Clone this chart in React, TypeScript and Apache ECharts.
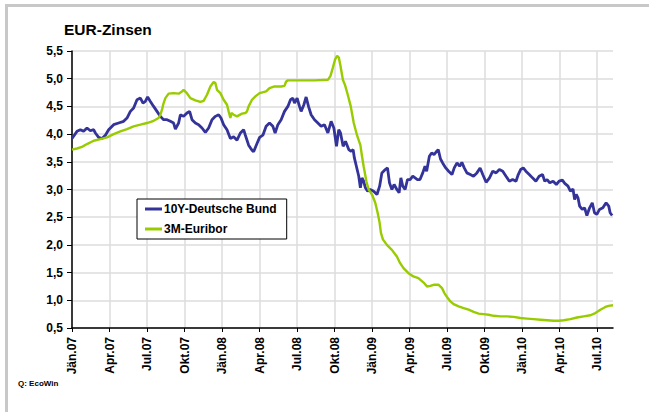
import React, { useEffect, useRef } from "react";
import * as echarts from "echarts";

// x values are months since January 2007 (fractional)
const xTickLabels = [
  "Jän.07", "Apr.07", "Jul.07", "Okt.07",
  "Jän.08", "Apr.08", "Jul.08", "Okt.08",
  "Jän.09", "Apr.09", "Jul.09", "Okt.09",
  "Jän.10", "Apr.10", "Jul.10",
];
const xTickValues = [0, 3, 6, 9, 12, 15, 18, 21, 24, 27, 30, 33, 36, 39, 42];

const bundMonths = [
  0, 0.4, 0.67, 0.93, 1.2, 1.47, 1.73, 1.87, 2.13, 2.4, 2.67, 2.93, 3.33, 3.73, 4.13, 4.4, 4.67, 4.93,
  5.2, 5.47, 5.68, 5.87, 6.05, 6.27, 6.53, 6.8, 7.07, 7.33, 7.6, 7.87, 8.13, 8.27, 8.53, 8.67, 8.93,
  9.2, 9.41, 9.6, 9.87, 10.13, 10.4, 10.67, 10.93, 11.2, 11.47, 11.73, 11.92, 12.13, 12.4, 12.67,
  12.93, 13.2, 13.47, 13.73, 13.87, 14.13, 14.4, 14.53, 14.8, 15.01,
  15.27, 15.53, 15.8, 16.07, 16.25, 16.47, 16.73, 17.0, 17.27, 17.48, 17.67, 17.8, 18.01, 18.2,
  18.33, 18.55, 18.73, 18.92, 19.13, 19.4, 19.67, 19.93, 20.2, 20.47, 20.73,
  20.95, 21.16, 21.34, 21.48, 21.69, 21.88, 22.14, 22.33, 22.49, 22.59, 22.75, 22.94, 23.07, 23.2,
  23.33, 23.47, 23.65, 23.86, 24.13, 24.4, 24.61, 24.79, 25.06, 25.24, 25.4, 25.59, 25.77, 25.99,
  26.17, 26.31, 26.46, 26.65, 26.84, 27.05, 27.26, 27.45, 27.63, 27.84, 28.06, 28.24, 28.37, 28.59,
  28.77, 28.96, 29.17, 29.3, 29.48, 29.65, 29.9,
  30.13, 30.4, 30.58, 30.8, 31.01, 31.19, 31.38, 31.59, 31.86, 32.12, 32.39, 32.65, 32.86, 33.13,
  33.4, 33.66, 33.93, 34.19, 34.46, 34.72, 34.99, 35.25, 35.52, 35.7, 35.89, 36.1, 36.31, 36.58,
  36.84, 37.11, 37.37, 37.64, 37.82, 38.01, 38.22, 38.49, 38.75, 38.97, 39.23, 39.42, 39.68, 39.87,
  40.08, 40.21, 40.34, 40.48, 40.61, 40.82, 41.01, 41.19, 41.41, 41.62, 41.8, 41.99, 42.2, 42.47,
  42.73, 42.94, 43.05, 43.21,
];
const bundValues = [
  3.92, 4.05, 4.08, 4.05, 4.11, 4.06, 4.08, 4.02, 3.94, 3.92, 3.98, 4.08, 4.17, 4.2, 4.23, 4.29, 4.41, 4.47,
  4.62, 4.65, 4.56, 4.59, 4.67, 4.59, 4.5, 4.41, 4.32, 4.26, 4.26, 4.23, 4.2, 4.09, 4.2, 4.35, 4.32,
  4.38, 4.41, 4.26, 4.2, 4.17, 4.11, 4.03, 4.11, 4.26, 4.32, 4.35, 4.29, 4.17, 4.08, 3.92,
  3.95, 3.89, 4.02, 4.08, 3.98, 3.8, 3.71, 3.68, 3.83, 3.94,
  3.98, 4.14, 4.2, 4.14, 4.02, 4.17, 4.26, 4.41, 4.5, 4.62, 4.65, 4.56, 4.65, 4.5,
  4.41, 4.53, 4.67, 4.5, 4.35, 4.26, 4.2, 4.14, 4.17, 4.02, 4.23,
  4.11, 3.78, 4.08, 4.02, 3.78, 3.87, 3.72, 3.69, 3.72, 3.57, 3.42, 3.24, 3.03, 3.21,
  3.15, 3.03, 2.97, 3.0, 2.97, 2.91, 3.06, 3.3, 3.36, 3.39, 3.12, 3.0, 3.09, 3.0,
  2.94, 3.21, 3.06, 3.0, 3.18, 3.18, 3.24, 3.21, 3.18, 3.18, 3.3, 3.42, 3.33, 3.6,
  3.66, 3.63, 3.69, 3.72, 3.55, 3.48, 3.39,
  3.33, 3.27, 3.39, 3.48, 3.42, 3.49, 3.39, 3.3, 3.27, 3.24, 3.3, 3.39, 3.27, 3.13,
  3.21, 3.33, 3.3, 3.36, 3.33, 3.24, 3.15, 3.18, 3.15, 3.27, 3.36, 3.39, 3.33, 3.27,
  3.21, 3.15, 3.24, 3.27, 3.15, 3.18, 3.12, 3.15, 3.09, 3.15, 3.17, 3.11, 3.06, 2.97,
  3.01, 2.82, 2.91, 2.85, 2.7, 2.64, 2.67, 2.53, 2.67, 2.76, 2.58, 2.55, 2.64, 2.67,
  2.76, 2.7, 2.58, 2.53,
];

const euriborMonths = [
  0, 0.4, 0.8, 1.2, 1.73, 2.27, 2.8, 3.33, 3.87, 4.4, 4.93, 5.47, 6.0, 6.53, 6.93, 7.07, 7.2, 7.33,
  7.47, 7.73, 8.13, 8.53, 8.8, 8.93, 9.15, 9.47, 9.87, 10.27, 10.53, 10.8, 11.07, 11.33, 11.47, 11.6,
  11.87, 12.13, 12.4, 12.53, 12.67, 12.75, 12.93, 13.2, 13.6, 13.87, 14.0, 14.13, 14.4, 14.67, 15.01,
  15.53, 15.8, 16.2, 16.73, 17.0, 17.13, 17.27, 18.33, 19.4, 20.47, 20.68, 20.87, 21.05, 21.21,
  21.35, 21.48, 21.67, 21.85, 22.05, 22.3, 22.54, 22.8, 23.07, 23.2, 23.33, 23.55, 23.73, 24.0,
  24.26, 24.45, 24.61, 24.71, 24.87, 25.19, 25.59, 25.99, 26.25, 26.52, 26.92, 27.31, 27.71, 28.13,
  28.4, 28.67, 28.93, 29.33, 29.6, 29.79, 30.0, 30.27, 30.53, 30.93, 31.33, 31.73, 32.13, 32.53,
  32.93, 33.33, 33.73, 34.27, 34.8, 35.33, 35.87, 36.4, 36.93, 37.47, 38.0, 38.53, 38.93, 39.33,
  39.87, 40.4, 40.93, 41.47, 41.87, 42.27, 42.67, 42.93, 43.28,
];
const euriborValues = [
  3.72, 3.74, 3.77, 3.82, 3.88, 3.91, 3.94, 4.0, 4.05, 4.09, 4.14, 4.17, 4.2, 4.24, 4.29, 4.35, 4.44, 4.56,
  4.65, 4.73, 4.74, 4.73, 4.77, 4.8, 4.75, 4.65, 4.61, 4.58, 4.6, 4.71, 4.86, 4.94, 4.92, 4.8,
  4.74, 4.62, 4.53, 4.41, 4.29, 4.38, 4.35, 4.32, 4.37, 4.38, 4.41, 4.5, 4.62, 4.68, 4.74,
  4.77, 4.83, 4.86, 4.86, 4.87, 4.95, 4.97, 4.97, 4.97, 4.98, 5.05, 5.2, 5.35, 5.41,
  5.38, 5.23, 4.98, 4.88, 4.72, 4.5, 4.2, 3.98, 3.8, 3.6, 3.42, 3.15, 3.0, 2.91,
  2.76, 2.58, 2.4, 2.22, 2.1, 2.0, 1.91, 1.79, 1.67, 1.58, 1.49, 1.43, 1.4, 1.32,
  1.25, 1.26, 1.28, 1.28, 1.22, 1.13, 1.06, 0.98, 0.93, 0.89, 0.86, 0.83, 0.79, 0.76,
  0.75, 0.74, 0.72, 0.71, 0.71, 0.7, 0.68, 0.67, 0.66, 0.65, 0.64, 0.63, 0.63, 0.64,
  0.66, 0.69, 0.71, 0.73, 0.77, 0.83, 0.88, 0.9, 0.91,
];

const seriesNames = ["10Y-Deutsche Bund", "3M-Euribor"];
const FONT = "'Liberation Sans', Arial, Helvetica, sans-serif";

export default function App() {
  const ref = useRef<HTMLDivElement>(null);

  useEffect(() => {
    document.body.style.margin = "0";
    if (!ref.current) return;
    const chart = echarts.init(ref.current, undefined, { renderer: "svg" });

    const bundData = bundMonths.map((m, i) => [m, bundValues[i]]);
    const euriborData = euriborMonths.map((m, i) => [m, euriborValues[i]]);

    const splitColors: string[] = xTickValues.map(() => "#dcdcdc");
    splitColors.push("rgba(0,0,0,0)");

    chart.setOption({
      animation: false,
      backgroundColor: "#ffffff",
      title: {
        text: "EUR-Zinsen",
        left: 64,
        top: 21,
        padding: 0,
        textStyle: { fontFamily: FONT, fontSize: 15.5, fontWeight: "bold", color: "#000" },
      },
      legend: {
        data: seriesNames,
        orient: "vertical",
        left: 137,
        top: 199,
        padding: [4, 10, 4, 8],
        itemGap: 8,
        itemWidth: 17,
        itemHeight: 3,
        icon: "rect",
        backgroundColor: "#ffffff",
        borderColor: "#000000",
        borderWidth: 1,
        textStyle: { fontFamily: FONT, fontSize: 12, fontWeight: "bold", color: "#000", padding: [0, 0, 0, -3] },
      },
      grid: { left: 72, right: 36, top: 51, bottom: 84, containLabel: false },
      xAxis: {
        type: "value",
        min: 0,
        max: 43.28,
        interval: 3,
        axisLine: { show: true, lineStyle: { color: "#000", width: 1.5 } },
        axisTick: { show: true, length: 4, customValues: xTickValues, lineStyle: { color: "#000", width: 1 } },
        axisLabel: {
          show: true,
          rotate: 90,
          margin: 9,
          customValues: xTickValues,
          fontFamily: FONT,
          fontSize: 12,
          fontWeight: "bold",
          color: "#000",
          formatter: (v: number) => {
            const idx = Math.round(v / 3);
            return Math.abs(v - idx * 3) < 0.01 && xTickLabels[idx] ? xTickLabels[idx] : "";
          },
        },
        splitLine: { show: true, lineStyle: { color: splitColors, width: 1.5 } },
      },
      yAxis: {
        type: "value",
        min: 0.5,
        max: 5.5,
        interval: 0.5,
        axisLine: { show: true, lineStyle: { color: "#000", width: 1.5 } },
        axisTick: { show: true, length: 5, lineStyle: { color: "#000", width: 1 } },
        axisLabel: {
          margin: 9,
          fontFamily: FONT,
          fontSize: 12,
          fontWeight: "bold",
          color: "#000",
          formatter: (v: number) => v.toFixed(1).replace(".", ","),
        },
        splitLine: { show: true, lineStyle: { color: "#dcdcdc", width: 1.5 } },
      },
      series: [
        {
          name: seriesNames[0],
          type: "line",
          data: bundData,
          showSymbol: false,
          symbol: "none",
          lineStyle: { color: "#333399", width: 2.8 },
          itemStyle: { color: "#333399" },
          z: 2,
        },
        {
          name: seriesNames[1],
          type: "line",
          data: euriborData,
          showSymbol: false,
          symbol: "none",
          lineStyle: { color: "#99cc00", width: 2.4 },
          itemStyle: { color: "#99cc00" },
          z: 3,
        },
      ],
      graphic: [
        { type: "rect", left: 5, top: 4, shape: { width: 644, height: 3 }, style: { fill: "#c8c8c8" } },
        { type: "rect", left: 5, top: 4, shape: { width: 3, height: 408 }, style: { fill: "#c8c8c8" } },
        {
          type: "text",
          left: 18,
          top: 379,
          style: { text: "Q: EcoWin", fontFamily: FONT, fontSize: 8, fontWeight: "bold", fill: "#000" },
        },
      ],
    });

    return () => chart.dispose();
  }, []);

  return <div ref={ref} style={{ width: 649, height: 412 }} />;
}
